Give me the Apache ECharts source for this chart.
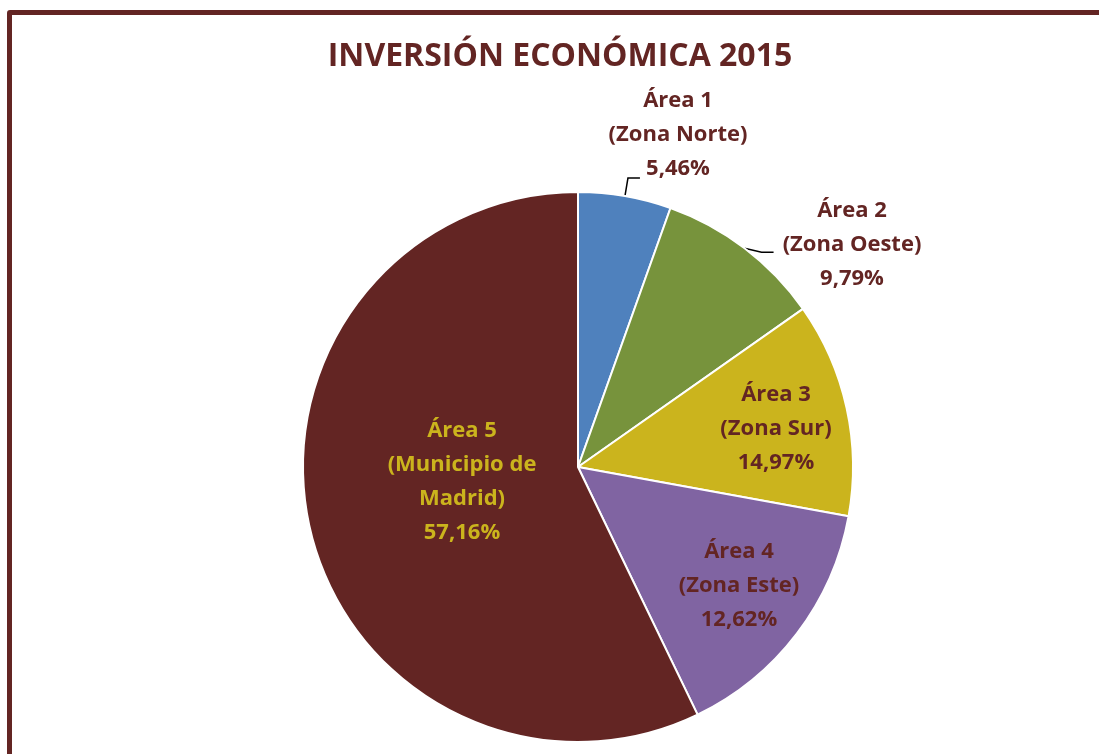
<!DOCTYPE html>
<html>
<head>
<meta charset="utf-8">
<script src="https://cdn.jsdelivr.net/npm/echarts@6/dist/echarts.min.js"></script>
<style>
  html, body { margin: 0; padding: 0; background: #fff; }
  #chart { position: absolute; left: 0; top: 0; width: 1099px; height: 754px; }
  /* marco granate del gráfico (sólo asoman los lados izquierdo y superior) */
  #frame { position: absolute; left: 7px; top: 10px; width: 1200px; height: 900px;
           border: 5px solid #632523; border-radius: 3px; pointer-events: none; }
</style>
</head>
<body>
<div id="chart"></div>
<div id="frame"></div>
<script>
// datos
var areas = ['Área 1\n(Zona Norte)', 'Área 2\n(Zona Oeste)', 'Área 3\n(Zona Sur)', 'Área 4\n(Zona Este)', 'Área 5\n(Municipio de\nMadrid)'];
// tamaño de las porciones tal como están dibujadas
var valores = [5.46, 9.79, 12.62, 14.97, 57.16];
// porcentajes tal como aparecen escritos en las etiquetas (el original tiene 3 y 4 cruzados)
var rotulos = ['5,46%', '9,79%', '14,97%', '12,62%', '57,16%'];
var colores = ['#4F81BD', '#77933C', '#CBB41D', '#8064A2', '#632523'];
var colorTexto = ['#632523', '#632523', '#632523', '#632523', '#CBB41D'];

var granate = '#632523';
var cx = 578, cy = 467, R = 275;

// donde va cada etiqueta (centro del bloque de texto)
var posEtiqueta = [[678, 135], [852, 245], [776, 429], [739, 586], [462, 482]];
// codo de la linea guia respecto al borde de la porcion (solo etiquetas exteriores)
var codo = [[3, -18], [17, 4]];

var total = valores.reduce(function (a, b) { return a + b; }, 0);
function anguloMedio(i) {
  var acum = 0;
  for (var k = 0; k < i; k++) acum += valores[k];
  return (acum + valores[i] / 2) / total * Math.PI * 2;
}

var myChart = echarts.init(document.getElementById('chart'));

var data = [];
for (var i = 0; i < valores.length; i++) {
  var fuera = i < 2;
  data.push({
    name: areas[i],
    value: valores[i],
    itemStyle: { color: colores[i] },
    label: { position: fuera ? 'outside' : 'inside', color: colorTexto[i] },
    labelLine: { show: fuera }
  });
}

var option = {
  backgroundColor: '#fff',
  animation: false,
  graphic: [{
    type: 'text',
    x: 560,
    y: 41,
    style: {
      text: 'INVERSIÓN ECONÓMICA 2015',
      fill: granate,
      font: 'bold 32px "Open Sans"',
      align: 'center',
      verticalAlign: 'top'
    }
  }],
  series: [{
    type: 'pie',
    center: [cx, cy],
    radius: R,
    startAngle: 90,
    clockwise: true,
    itemStyle: { borderColor: '#fff', borderWidth: 2 },
    label: {
      fontFamily: 'Open Sans',
      fontWeight: 'bold',
      fontSize: 22,
      lineHeight: 34,
      align: 'center',
      formatter: function (p) {
        return p.name + '\n' + rotulos[p.dataIndex];
      }
    },
    labelLine: { lineStyle: { color: '#000', width: 1.5 } },
    labelLayout: function (p) {
      var i = p.dataIndex;
      var res = {
        x: posEtiqueta[i][0],
        y: posEtiqueta[i][1],
        align: 'center',
        verticalAlign: 'middle'
      };
      if (i < 2) {
        var a = anguloMedio(i);
        var p0 = [cx + R * Math.sin(a), cy - R * Math.cos(a)];
        var p1 = [p0[0] + codo[i][0], p0[1] + codo[i][1]];
        var p2 = [p1[0] + 12, p1[1]];
        res.labelLinePoints = [p0, p1, p2];
      }
      return res;
    },
    data: data
  }]
};
myChart.setOption(option);
</script>
</body>
</html>
